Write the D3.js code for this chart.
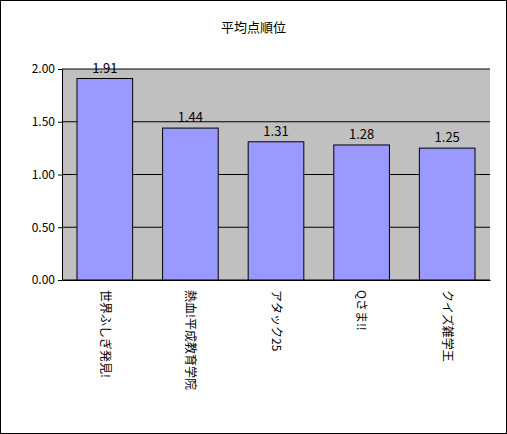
<!DOCTYPE html>
<html><head><meta charset="utf-8">
<script src="https://cdn.jsdelivr.net/npm/d3@7"></script>
<style>body{margin:0;background:#fff}text{font-family:"Noto Sans CJK JP",sans-serif}</style>
</head><body><div id="chart"></div>
<script>
var categories = ["世界ふしぎ発見!", "熱血!平成教育学院", "アタック25", "Qさま!!", "クイズ雑学王"];
var values = [1.91, 1.44, 1.31, 1.28, 1.25];
var yTicks = [0, 0.5, 1.0, 1.5, 2.0];

var W = 507, H = 434,
    margin = {top: 69, right: 17, bottom: 154, left: 62},
    width = W - margin.left - margin.right,
    height = H - margin.top - margin.bottom;

var svg = d3.select("#chart").append("svg").attr("width", W).attr("height", H);
svg.append("rect").attr("x", 0.5).attr("y", 0.5).attr("width", W - 1).attr("height", H - 1)
    .attr("fill", "#fff").attr("stroke", "#000");
svg.append("text").attr("x", W / 2).attr("y", 32).attr("text-anchor", "middle")
    .attr("font-size", 13).text("平均点順位");

var g = svg.append("g").attr("transform", "translate(" + margin.left + "," + margin.top + ")");
var x = d3.scaleBand().domain(categories).range([0, width]).paddingInner(0.35).paddingOuter(0.175);
var y = d3.scaleLinear().domain([0, 2]).range([height, 0]);

g.append("rect").attr("width", width).attr("height", height).attr("fill", "#c0c0c0");
g.selectAll(".grid").data(yTicks).enter().append("line")
    .attr("x1", 0).attr("x2", width).attr("y1", function(d) { return y(d); }).attr("y2", function(d) { return y(d); })
    .attr("stroke", "#000");

g.selectAll(".bar").data(values).enter().append("rect")
    .attr("x", function(d, i) { return x(categories[i]); })
    .attr("y", function(d) { return y(d); })
    .attr("width", x.bandwidth())
    .attr("height", function(d) { return height - y(d); })
    .attr("fill", "#9999ff").attr("stroke", "#000");

g.selectAll(".val").data(values).enter().append("text")
    .attr("x", function(d, i) { return x(categories[i]) + x.bandwidth() / 2; })
    .attr("y", function(d) { return y(d) - 6; })
    .attr("text-anchor", "middle").attr("font-size", 13).attr("font-family", "Liberation Sans")
    .text(function(d) { return d.toFixed(2); });

var yAxis = g.append("g").call(d3.axisLeft(y).tickValues(yTicks).tickFormat(d3.format(".2f")).tickSize(4));
yAxis.selectAll("text").attr("font-size", 12).attr("font-family", "Liberation Sans").attr("fill", "#000");
yAxis.selectAll("line,path").attr("stroke", "#000");

var xAxis = g.append("g").attr("transform", "translate(0," + height + ")")
    .call(d3.axisBottom(x).tickSize(0).tickSizeOuter(0));
xAxis.select("path").attr("stroke", "#000");
xAxis.selectAll("text").attr("font-size", 12).attr("fill", "#000")
    .attr("text-anchor", "start").attr("dy", "0.35em")
    .attr("transform", "translate(0,10) rotate(90)").attr("y", 0).attr("x", 0);
</script></body></html>
